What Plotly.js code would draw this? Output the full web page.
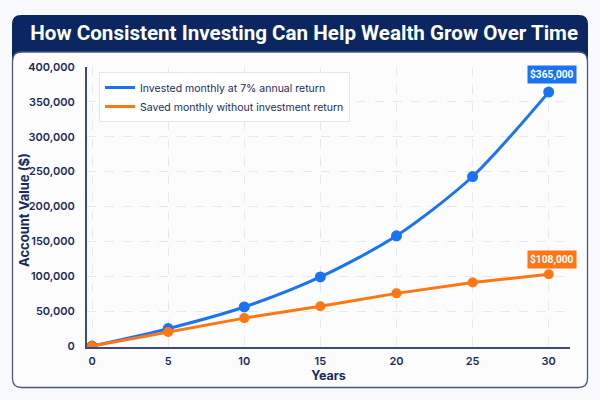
<!DOCTYPE html>
<html>
<head>
<meta charset="utf-8">
<script src="https://cdn.plot.ly/plotly-3.0.1.min.js"></script>
<style>
html,body{margin:0;padding:0;background:#f8f9fb;}
#chart{width:600px;height:400px;}
</style>
</head>
<body>
<div id="chart"></div>
<script>
const years = [0, 5, 10, 15, 20, 25, 30];
const investedValues = [0, 25000, 56000, 99000, 158000, 243000, 364000];
const savedValues = [0, 20000, 40000, 57000, 75500, 91000, 103000];
const investedName = "Invested monthly at 7% annual return";
const savedName = "Saved monthly without investment return";
const investedLabel = "$365,000";
const savedLabel = "$108,000";
const xTicks = [0, 5, 10, 15, 20, 25, 30];
const yTicks = [0, 50000, 100000, 150000, 200000, 250000, 300000, 350000, 400000];
const yTickText = ["0", "50,000", "100,000", "150,000", "200,000", "250,000", "300,000", "350,000", "400,000"];

const BLUE = "#1a73f2";
const ORANGE = "#ff7612";
const NAVY = "#1c2b5a";
const HEADER = "#0b2660";

// plot area in pixels
const L = 87, R = 570, T = 67, B = 347, W = 600, H = 400;
const px = x => (x - L) / (R - L);
const py = y => (B - y) / (B - T);

function roundRect(x0, y0, x1, y1, r) {
  const p = (x, y) => px(x).toFixed(5) + "," + py(y).toFixed(5);
  return "M" + p(x0 + r, y0) + " L" + p(x1 - r, y0) + " Q" + p(x1, y0) + " " + p(x1, y0 + r) +
    " L" + p(x1, y1 - r) + " Q" + p(x1, y1) + " " + p(x1 - r, y1) +
    " L" + p(x0 + r, y1) + " Q" + p(x0, y1) + " " + p(x0, y1 - r) +
    " L" + p(x0, y0 + r) + " Q" + p(x0, y0) + " " + p(x0 + r, y0) + " Z";
}

const traces = [
  {
    x: years, y: investedValues, name: investedName, type: "scatter", mode: "lines+markers",
    line: {color: BLUE, width: 3, shape: "spline", smoothing: 0.8},
    marker: {color: BLUE, size: 11}, showlegend: false
  },
  {
    x: years, y: savedValues, name: savedName, type: "scatter", mode: "lines+markers",
    line: {color: ORANGE, width: 3},
    marker: {color: ORANGE, size: 10}, showlegend: false
  },
  // legend entries (line-only symbols)
  {x: [null], y: [null], name: investedName, type: "scatter", mode: "lines",
   line: {color: BLUE, width: 3}, showlegend: true},
  {x: [null], y: [null], name: savedName, type: "scatter", mode: "lines",
   line: {color: ORANGE, width: 3}, showlegend: true}
];

const layout = {
  width: W, height: H,
  margin: {l: L, r: W - R, t: T, b: H - B},
  paper_bgcolor: "#f8f9fb",
  plot_bgcolor: "rgba(0,0,0,0)",
  font: {family: "Inter, Roboto, sans-serif", color: NAVY},
  title: {
    text: "<b>How Consistent Investing Can Help Wealth Grow Over Time</b>",
    font: {family: "Roboto, Inter, sans-serif", size: 20.6, color: "#ffffff"},
    xref: "container", x: 0.507, xanchor: "center",
    yref: "container", y: 1 - 33 / H, yanchor: "middle"
  },
  xaxis: {
    range: [-0.33, 31.4],
    tickvals: xTicks,
    ticktext: xTicks.map(String),
    showgrid: true, gridcolor: "#e6e8ed", griddash: "dash", gridwidth: 1,
    zeroline: false,
    showline: true, linecolor: "#3b4a78", linewidth: 2,
    ticks: "", ticklabelstandoff: 3,
    tickfont: {size: 11, color: NAVY, family: "Inter, sans-serif", weight: 600},
    title: {text: "<b>Years</b>", font: {size: 12.5, color: NAVY}, standoff: 2}
  },
  yaxis: {
    range: [-1400, 400000],
    tickvals: yTicks,
    ticktext: yTickText,
    showgrid: true, gridcolor: "#e6e8ed", griddash: "dash", gridwidth: 1,
    zeroline: false,
    showline: true, linecolor: "#3b4a78", linewidth: 2,
    ticks: "", ticklabelstandoff: 8,
    tickfont: {size: 11, color: NAVY, family: "Inter, sans-serif", weight: 600}
  },
  legend: {
    x: px(99), y: py(72), xanchor: "left", yanchor: "top",
    bgcolor: "#ffffff", bordercolor: "#e3e6ea", borderwidth: 1,
    font: {size: 10.5, color: NAVY, family: "Inter, sans-serif"},
    tracegroupgap: 0, itemwidth: 30, entrywidth: 0
  },
  showlegend: true,
  shapes: [
    {type: "path", xref: "paper", yref: "paper", layer: "below",
     path: roundRect(12, 15, 588, 80, 9), fillcolor: HEADER, line: {width: 0}},
    {type: "path", xref: "paper", yref: "paper", layer: "below",
     path: roundRect(12.5, 52, 587.5, 387.5, 9), fillcolor: "#fcfcfd", line: {color: "#4a5880", width: 1.3}}
  ],
  annotations: [
    {xref: "paper", yref: "paper", x: px(34), y: py(210), textangle: -90,
     text: "<b>Account Value ($)</b>", showarrow: false, xanchor: "right", yanchor: "middle",
     font: {size: 13, color: NAVY, family: "Inter, sans-serif"}},
    {x: 30, y: investedValues[investedValues.length - 1], xref: "x", yref: "y",
     text: "<b>" + investedLabel + "</b>", showarrow: false, yshift: 18, xshift: 3,
     bgcolor: BLUE, borderpad: 2, font: {color: "#ffffff", size: 10.2, family: "Roboto, sans-serif"}},
    {x: 30, y: savedValues[savedValues.length - 1], xref: "x", yref: "y",
     text: "<b>" + savedLabel + "</b>", showarrow: false, yshift: 15, xshift: 3,
     bgcolor: ORANGE, borderpad: 2, font: {color: "#ffffff", size: 10.2, family: "Roboto, sans-serif"}}
  ]
};

Plotly.newPlot("chart", traces, layout, {displayModeBar: false, staticPlot: true});
</script>
</body>
</html>
